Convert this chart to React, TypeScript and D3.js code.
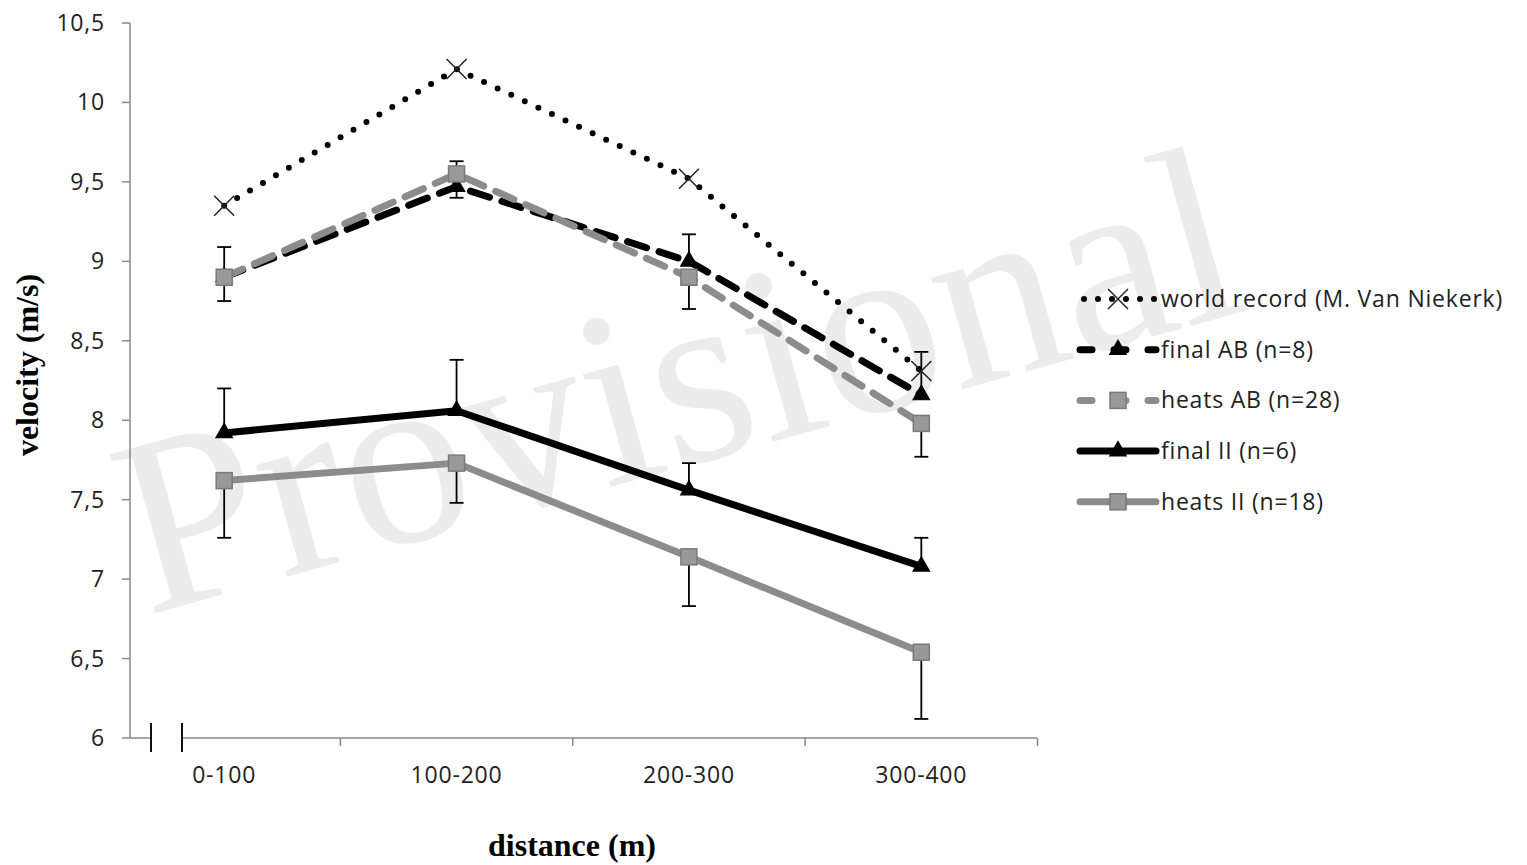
import { useRef, useEffect } from 'react'
import * as d3 from 'd3'

// distance splits of the 400 m race
const categories = ['0-100', '100-200', '200-300', '300-400']
const yTicks = [6, 6.5, 7, 7.5, 8, 8.5, 9, 9.5, 10, 10.5]

// mean velocity (m/s) per split
const worldRecord = [9.35, 10.21, 9.52, 8.31]
const finalAB = [8.9, 9.47, 9.0, 8.16]
const heatsAB = [8.9, 9.55, 8.9, 7.98]
const finalII = [7.92, 8.06, 7.56, 7.08]
const heatsII = [7.62, 7.73, 7.14, 6.54]

// SD error bars (finals drawn upward, heats drawn downward)
const finalABErr = [0.19, 0.16, 0.17, 0.27]
const heatsABErr = [0.15, 0.15, 0.2, 0.21]
const finalIIErr = [0.28, 0.32, 0.17, 0.18]
const heatsIIErr = [0.36, 0.25, 0.31, 0.42]

const seriesNames = [
  'world record (M. Van Niekerk)',
  'final AB (n=8)',
  'heats AB (n=28)',
  'final II (n=6)',
  'heats II (n=18)',
]

const GREY = '#8c8c8c'
const SANS = '"Open Sans", "DejaVu Sans", sans-serif'
const SERIF = '"Liberation Serif", "Times New Roman", serif'
const LABEL_SIZE = 23
const LABEL_SPACING = 0.8

export default function App() {
  const svgRef = useRef<SVGSVGElement | null>(null)
  const width = 1527
  const height = 865

  useEffect(() => {
    if (!svgRef.current) return
    const svg = d3.select(svgRef.current)
    svg.selectAll('*').remove()

    const x = d3.scaleBand<string>().domain(categories).range([108, 1037.5])
    const y = d3.scaleLinear().domain([6, 10.5]).range([738, 23])
    const cx = (c: string) => (x(c) as number) + x.bandwidth() / 2

    const series = [
      { name: seriesNames[0], values: worldRecord, color: '#000', dash: '0 15', marker: 'x', err: null, dir: 0 },
      { name: seriesNames[1], values: finalAB, color: '#000', dash: '20 13', marker: 'tri', err: finalABErr, dir: 1 },
      { name: seriesNames[2], values: heatsAB, color: GREY, dash: '20 13', marker: 'sq', err: heatsABErr, dir: -1 },
      { name: seriesNames[3], values: finalII, color: '#000', dash: null, marker: 'tri', err: finalIIErr, dir: 1 },
      { name: seriesNames[4], values: heatsII, color: GREY, dash: null, marker: 'sq', err: heatsIIErr, dir: -1 },
    ]

    // watermark
    svg.append('text')
      .attr('transform', 'translate(700,462) rotate(-15.5)')
      .attr('text-anchor', 'middle')
      .attr('font-family', SERIF)
      .attr('font-size', 252)
      .attr('fill', '#ececec')
      .text('Provisional')

    // y axis
    const yAxis = svg.append('g')
    yAxis.append('line')
      .attr('x1', 130).attr('x2', 130)
      .attr('y1', y(10.5)).attr('y2', y(6))
      .attr('stroke', '#8a8a8a').attr('stroke-width', 1.5)
    yAxis.selectAll('.ytick')
      .data(yTicks)
      .enter()
      .append('line')
      .attr('x1', 122).attr('x2', 130)
      .attr('y1', d => y(d)).attr('y2', d => y(d))
      .attr('stroke', '#8a8a8a').attr('stroke-width', 1.5)
    yAxis.selectAll('.ylab')
      .data(yTicks)
      .enter()
      .append('text')
      .attr('x', 105)
      .attr('y', d => y(d))
      .attr('dy', '0.35em')
      .attr('text-anchor', 'end')
      .attr('font-family', SANS)
      .attr('font-size', LABEL_SIZE)
      .attr('letter-spacing', LABEL_SPACING)
      .attr('fill', '#222')
      .text(d => String(d).replace('.', ','))

    // x axis with break
    const xAxis = svg.append('g')
    const y0 = y(6)
    xAxis.append('line')
      .attr('x1', 130).attr('x2', 151).attr('y1', y0).attr('y2', y0)
      .attr('stroke', '#8a8a8a').attr('stroke-width', 1.5)
    xAxis.append('line')
      .attr('x1', 182).attr('x2', 1037).attr('y1', y0).attr('y2', y0)
      .attr('stroke', '#8a8a8a').attr('stroke-width', 1.5)
    ;[151, 182].forEach(bx => {
      xAxis.append('line')
        .attr('x1', bx).attr('x2', bx).attr('y1', y0 - 15).attr('y2', y0 + 14)
        .attr('stroke', '#111').attr('stroke-width', 2)
    })
    xAxis.selectAll('.xtick')
      .data(categories)
      .enter()
      .append('line')
      .attr('x1', d => (x(d) as number) + x.bandwidth())
      .attr('x2', d => (x(d) as number) + x.bandwidth())
      .attr('y1', y0).attr('y2', y0 + 8)
      .attr('stroke', '#8a8a8a').attr('stroke-width', 1.5)
    xAxis.selectAll('.xlab')
      .data(categories)
      .enter()
      .append('text')
      .attr('x', d => cx(d))
      .attr('y', 783)
      .attr('text-anchor', 'middle')
      .attr('font-family', SANS)
      .attr('font-size', LABEL_SIZE)
      .attr('letter-spacing', LABEL_SPACING)
      .attr('fill', '#222')
      .text(d => d)

    // axis titles
    svg.append('text')
      .attr('x', 572).attr('y', 856)
      .attr('text-anchor', 'middle')
      .attr('font-family', SERIF)
      .attr('font-weight', 'bold')
      .attr('font-size', 32)
      .text('distance (m)')
    svg.append('text')
      .attr('transform', 'translate(38,365) rotate(-90)')
      .attr('text-anchor', 'middle')
      .attr('font-family', SERIF)
      .attr('font-weight', 'bold')
      .attr('font-size', 32)
      .text('velocity (m/s)')

    // error bars
    const errG = svg.append('g')
    series.forEach(s => {
      if (!s.err) return
      s.values.forEach((v, i) => {
        const px = cx(categories[i])
        const end = v + s.dir * (s.err as number[])[i]
        errG.append('line')
          .attr('x1', px).attr('x2', px).attr('y1', y(v)).attr('y2', y(end))
          .attr('stroke', '#000').attr('stroke-width', 1.8)
        errG.append('line')
          .attr('x1', px - 7).attr('x2', px + 7).attr('y1', y(end)).attr('y2', y(end))
          .attr('stroke', '#000').attr('stroke-width', 1.8)
      })
    })

    const drawMarker = (g: any, kind: string, px: number, py: number, color: string) => {
      if (kind === 'x') {
        g.append('path')
          .attr('d', `M${px - 10},${py - 10}L${px + 10},${py + 10}M${px - 10},${py + 10}L${px + 10},${py - 10}`)
          .attr('stroke', '#222').attr('stroke-width', 1.5).attr('fill', 'none')
      } else if (kind === 'tri') {
        g.append('path')
          .attr('d', d3.symbol(d3.symbolTriangle, 150)() as string)
          .attr('transform', `translate(${px},${py})`)
          .attr('fill', color)
      } else {
        g.append('rect')
          .attr('x', px - 8).attr('y', py - 8).attr('width', 16).attr('height', 16)
          .attr('fill', '#999').attr('stroke', '#7a7a7a').attr('stroke-width', 1.5)
      }
    }

    // lines + markers
    const line = d3.line<number>()
      .x((_, i) => cx(categories[i]))
      .y(d => y(d))
    series.forEach(s => {
      const g = svg.append('g')
      g.append('path')
        .datum(s.values)
        .attr('d', line)
        .attr('fill', 'none')
        .attr('stroke', s.color)
        .attr('stroke-width', s.marker === 'x' ? 6 : 7)
        .attr('stroke-linecap', 'round')
        .attr('stroke-linejoin', 'round')
        .attr('stroke-dasharray', s.dash ?? null)
      s.values.forEach((v, i) => drawMarker(g, s.marker, cx(categories[i]), y(v), s.color))
    })

    // legend
    const lg = svg.append('g')
    series.forEach((s, i) => {
      const ly = 299 + i * 50.7
      lg.append('line')
        .attr('x1', s.marker === 'x' ? 1084 : 1080).attr('x2', 1156)
        .attr('y1', ly).attr('y2', ly)
        .attr('stroke', s.color)
        .attr('stroke-width', s.marker === 'x' ? 6 : 7)
        .attr('stroke-linecap', 'round')
        .attr('stroke-dasharray', s.marker === 'x' ? '0 14' : s.dash ? '12 22' : null)
      drawMarker(lg, s.marker, 1118, ly, s.color)
      lg.append('text')
        .attr('x', 1161)
        .attr('y', ly)
        .attr('dy', '0.35em')
        .attr('font-family', SANS)
        .attr('font-size', LABEL_SIZE)
        .attr('letter-spacing', LABEL_SPACING)
        .attr('fill', '#222')
        .text(s.name)
    })
  }, [])

  return (
    <svg
      ref={svgRef}
      width={width}
      height={height}
      style={{ position: 'absolute', left: 0, top: 0, background: '#fff' }}
    />
  )
}
